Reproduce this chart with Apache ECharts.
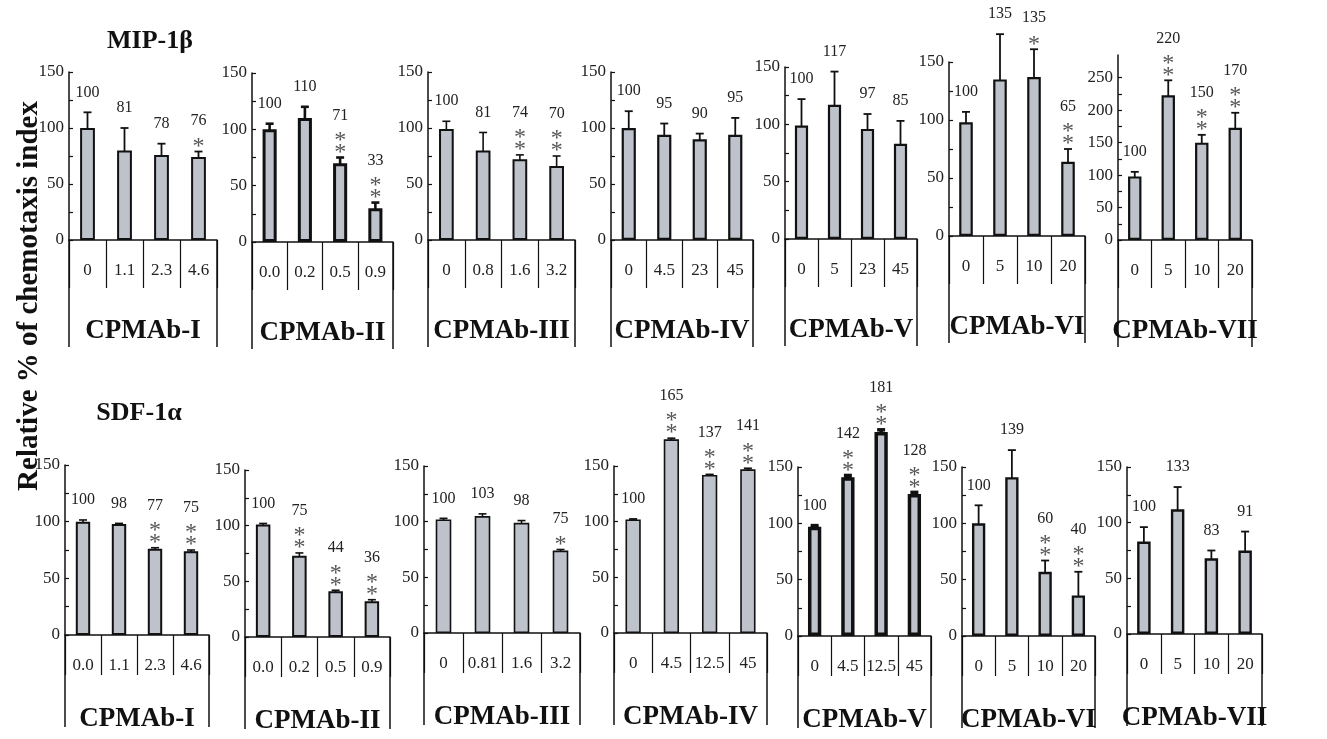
<!DOCTYPE html>
<html><head><meta charset="utf-8">
<script src="https://cdn.jsdelivr.net/npm/echarts@6/dist/echarts.min.js"></script>
<style>html,body{margin:0;padding:0;background:#fff}#c{width:1327px;height:739px}</style>
</head><body><div id="c"></div>
<script>
const FONT = '"Liberation Serif","Times New Roman",serif';

// ---------- data ----------
const rowTitles = ['MIP-1β', 'SDF-1α'];
const yAxisTitle = 'Relative % of chemotaxis index';
const panelNames = ['CPMAb-I', 'CPMAb-II', 'CPMAb-III', 'CPMAb-IV', 'CPMAb-V', 'CPMAb-VI', 'CPMAb-VII'];

const mipDoses = [['0','1.1','2.3','4.6'], ['0.0','0.2','0.5','0.9'], ['0','0.8','1.6','3.2'], ['0','4.5','23','45'], ['0','5','23','45'], ['0','5','10','20'], ['0','5','10','20']];
const mipMeans = [[100,80,76,74], [100,110,70,30], [99,80,72,66], [100,94,90,94], [99,117,96,83], [98,135,137,64], [98,223,150,173]];
const mipErrors = [[14,20,10,5], [5,10,5,5], [7,16,4,9], [15,10,5,15], [23,29,13,20], [9,39,24,11], [7,23,12,23]];
const mipLabels = [['100','81','78','76'], ['100','110','71','33'], ['100','81','74','70'], ['100','95','90','95'], ['100','117','97','85'], ['100','135','135','65'], ['100','220','150','170']];
const mipStars = [[0,0,0,1], [0,0,2,2], [0,0,2,2], [0,0,0,0], [0,0,0,0], [0,0,1,2], [0,2,2,2]];

const sdfDoses = [['0.0','1.1','2.3','4.6'], ['0.0','0.2','0.5','0.9'], ['0','0.81','1.6','3.2'], ['0','4.5','12.5','45'], ['0','4.5','12.5','45'], ['0','5','10','20'], ['0','5','10','20']];
const sdfMeans = [[100,98,76,74], [101,73,41,32], [102,105,99,74], [102,174,142,147], [97,141,181,126], [100,141,57,36], [83,112,68,75]];
const sdfErrors = [[1.5,0.5,1,1], [1,2.5,1,1.5], [1,2,2,1], [0.5,1,0.5,1], [1,1.5,2,1.5], [16,24,10,21], [13,20,7,17]];
const sdfLabels = [['100','98','77','75'], ['100','75','44','36'], ['100','103','98','75'], ['100','165','137','141'], ['100','142','181','128'], ['100','139','60','40'], ['100','133','83','91']];
const sdfStars = [[0,0,2,2], [0,2,2,2], [0,0,0,1], [0,2,2,2], [0,2,2,2], [0,0,2,2], [0,0,0,0]];

const ticks150 = [0,25,50,75,100,125,150];
const labels150 = [0,50,100,150];
const ticks250 = [0,25,50,75,100,125,150,175,200,225,250];
const labels250 = [0,50,100,150,200,250];
const mipMax = [150,150,150,150,150,150,285];
const sdfMax = [150,150,150,150,150,150,150];

// ---------- layout (pixels) ----------
// [left, right, top, bottom] of each plot area
const topBoxes = [[69,217,72,240],[252,393,73,242],[428,575,72,240],[611,753,72,240],[785,917,67,239],[949,1085,62,236],[1118,1252,55,240]];
const botBoxes = [[65,209,465,635],[245,390,470,637],[424,580,466,633],[614,767,466,633],[798,931,467,636],[962,1095,467,636],[1127,1262,467,634]];
const topStyle = {sepLen: 48, frameLen: 107, nameGap: 78};
const botStyle = {sepLen: 40, frameLen: 92, nameGap: 71};
const mipBorder = [2,3,2,2.2,2.2,2.2,2.2];
const sdfBorder = [2,2,1.6,1.6,3.5,2.4,2.4];
const mipErrW = [1.8,2.6,1.6,1.8,1.8,1.8,1.8];
const sdfErrW = [1.6,1.6,1.6,1.6,3.5,1.8,1.8];

const grids = [], xAxes = [], yAxes = [], series = [];

function addPanel(p, box, rs, doses, means, errs, labels, stars, yMax, border, errW) {
  const gi = grids.length;
  const big = yMax > 150;
  grids.push({left: box[0], top: box[2], width: box[1] - box[0], height: box[3] - box[2]});
  xAxes.push({
    gridIndex: gi, type: 'category', data: doses,
    name: panelNames[p], nameLocation: 'middle', nameGap: rs.nameGap,
    nameTextStyle: {fontFamily: FONT, fontWeight: 'bold', fontSize: 27, color: '#111'},
    axisLine: {lineStyle: {color: '#111', width: 1.5}},
    axisTick: {show: true, interval: 0, length: rs.sepLen, lineStyle: {color: '#111', width: 1.2}},
    axisLabel: {interval: 0, margin: 22, fontFamily: FONT, fontSize: 17, color: '#222'},
    splitLine: {show: false}
  });
  yAxes.push({
    gridIndex: gi, type: 'value', min: 0, max: yMax,
    axisLine: {show: true, lineStyle: {color: '#111', width: 1.5}},
    axisTick: {show: true, inside: true, length: 4, customValues: big ? ticks250 : ticks150, lineStyle: {color: '#111', width: 1.2}},
    axisLabel: {customValues: big ? labels250 : labels150, margin: 5, fontFamily: FONT, fontSize: 17, color: '#222'},
    splitLine: {show: false}
  });
  series.push({
    type: 'bar', xAxisIndex: gi, yAxisIndex: gi, data: means, barWidth: '40%', clip: false, silent: true,
    itemStyle: {color: '#bec3cb', borderColor: '#111', borderWidth: border}
  });
  series.push({
    type: 'custom', xAxisIndex: gi, yAxisIndex: gi, clip: false, silent: true,
    data: means.map((m, i) => [i, m, errs[i]]),
    encode: {x: 0, y: 1},
    renderItem: (params, api) => {
      const i = api.value(0), m = api.value(1), e = api.value(2);
      const pT = api.coord([i, m + e]), pB = api.coord([i, m - e]);
      const x = pT[0], cw = 4;
      const ls = {stroke: '#111', lineWidth: errW};
      const ch = [
        {type: 'line', shape: {x1: x, y1: pT[1], x2: x, y2: pB[1]}, style: ls},
        {type: 'line', shape: {x1: x - cw, y1: pT[1], x2: x + cw, y2: pT[1]}, style: ls},
        {type: 'line', shape: {x1: x - cw, y1: pB[1], x2: x + cw, y2: pB[1]}, style: ls}
      ];
      const n = stars[params.dataIndex];
      for (let k = 0; k < n; k++) {
        ch.push({type: 'text', x: x, y: pT[1] - 5 - k * 12,
          style: {text: '*', fontFamily: FONT, fontSize: 24, fill: '#555', align: 'center', verticalAlign: 'middle'}});
      }
      ch.push({type: 'text', x: x, y: pT[1] - 20 - n * 11,
        style: {text: labels[params.dataIndex], fontFamily: FONT, fontSize: 16, fill: '#222', align: 'center', verticalAlign: 'middle'}});
      if (params.dataIndex === 0) {
        const cs = params.coordSys;
        const yb = cs.y + cs.height;
        const fs = {stroke: '#111', lineWidth: 1.5};
        ch.push({type: 'line', shape: {x1: cs.x, y1: yb, x2: cs.x, y2: yb + rs.frameLen}, style: fs});
        ch.push({type: 'line', shape: {x1: cs.x + cs.width, y1: yb, x2: cs.x + cs.width, y2: yb + rs.frameLen}, style: fs});
      }
      return {type: 'group', children: ch};
    }
  });
}

for (let p = 0; p < 7; p++) {
  addPanel(p, topBoxes[p], topStyle, mipDoses[p], mipMeans[p], mipErrors[p], mipLabels[p], mipStars[p], mipMax[p], mipBorder[p], mipErrW[p]);
}
for (let p = 0; p < 7; p++) {
  addPanel(p, botBoxes[p], botStyle, sdfDoses[p], sdfMeans[p], sdfErrors[p], sdfLabels[p], sdfStars[p], sdfMax[p], sdfBorder[p], sdfErrW[p]);
}

const chart = echarts.init(document.getElementById('c'), null, {renderer: 'canvas'});
chart.setOption({
  backgroundColor: '#fff',
  animation: false,
  grid: grids, xAxis: xAxes, yAxis: yAxes, series: series,
  graphic: [
    {type: 'text', x: 150, y: 41, style: {text: rowTitles[0], fontFamily: FONT, fontWeight: 'bold', fontSize: 26, fill: '#111', align: 'center', verticalAlign: 'middle'}},
    {type: 'text', x: 139, y: 413, style: {text: rowTitles[1], fontFamily: FONT, fontWeight: 'bold', fontSize: 26, fill: '#111', align: 'center', verticalAlign: 'middle'}},
    {type: 'text', x: 30, y: 296, rotation: Math.PI / 2, style: {text: yAxisTitle, fontFamily: FONT, fontWeight: 'bold', fontSize: 29, fill: '#111', align: 'center', verticalAlign: 'middle'}}
  ]
});
</script></body></html>
